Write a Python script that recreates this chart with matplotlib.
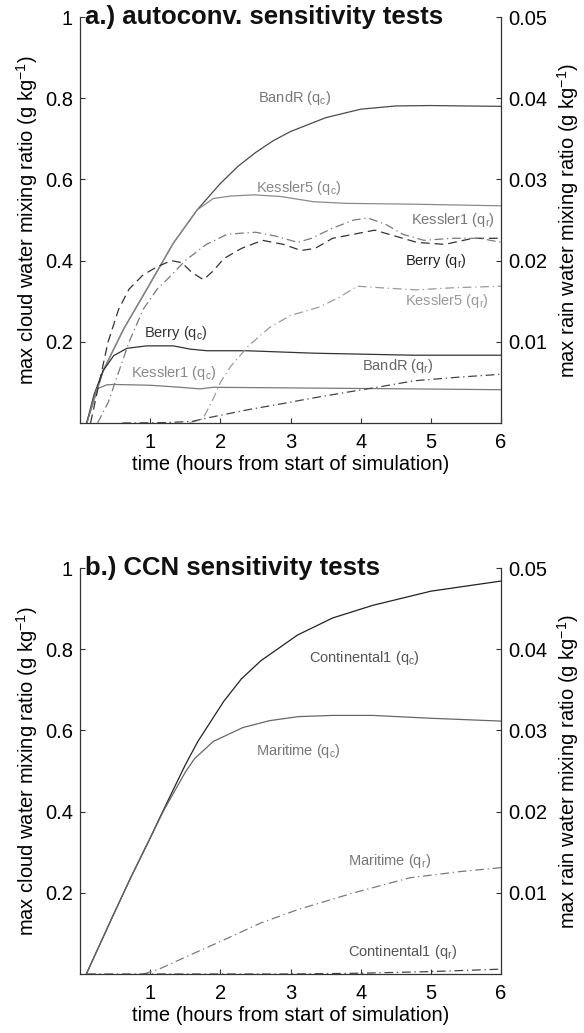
import matplotlib
matplotlib.use("Agg")
import matplotlib.pyplot as plt

plt.rcParams['font.family'] = ['Liberation Sans', 'DejaVu Sans']
plt.rcParams['mathtext.fontset'] = 'custom'
plt.rcParams['mathtext.rm'] = 'Liberation Sans'
plt.rcParams['mathtext.it'] = 'Liberation Sans:italic'

# ---- panel a: autoconversion sensitivity (cloud water, left axis, g/kg) ----
bandr_qc_t = [0.095, 0.33, 0.62, 0.95, 1.33, 1.67, 2.0, 2.25, 2.5, 2.75, 3.0, 3.5, 4.0, 4.5, 5.0, 6.0]
bandr_qc = [0.0, 0.129, 0.231, 0.329, 0.443, 0.525, 0.59, 0.632, 0.666, 0.695, 0.718, 0.752, 0.773, 0.781, 0.782, 0.78]

kess5_qc_t = [0.095, 0.33, 0.62, 0.95, 1.33, 1.67, 1.9, 2.14, 2.48, 2.86, 3.33, 3.81, 4.76, 6.0]
kess5_qc = [0.0, 0.129, 0.231, 0.329, 0.443, 0.525, 0.553, 0.559, 0.562, 0.558, 0.545, 0.541, 0.539, 0.535]

berry_qc_t = [0.095, 0.2, 0.33, 0.48, 0.67, 0.95, 1.33, 1.57, 1.81, 2.38, 3.33, 4.76, 6.0]
berry_qc = [0.0, 0.07, 0.129, 0.166, 0.184, 0.19, 0.19, 0.182, 0.178, 0.178, 0.172, 0.167, 0.167]

kess1_qc_t = [0.1, 0.17, 0.24, 0.38, 0.48, 1.0, 1.43, 1.71, 1.9, 3.33, 4.76, 6.0]
kess1_qc = [0.0, 0.045, 0.084, 0.094, 0.095, 0.093, 0.088, 0.084, 0.088, 0.086, 0.084, 0.082]

# ---- panel a: rain water (right axis, g/kg) ----
berry_qr_t = [0.15, 0.25, 0.4, 0.55, 0.7, 0.9, 1.1, 1.3, 1.45, 1.6, 1.76, 1.9, 2.05, 2.3, 2.6, 2.9,
              3.15, 3.35, 3.6, 3.9, 4.2, 4.5, 4.8, 5.2, 5.6, 6.0]
berry_qr = [0.0, 0.004, 0.01, 0.014, 0.0165, 0.01825, 0.01925, 0.02, 0.01975, 0.0185, 0.01765, 0.01875,
            0.02025, 0.0215, 0.0225, 0.022, 0.02125, 0.0215, 0.02275, 0.02325, 0.02375, 0.023, 0.02225,
            0.022, 0.02275, 0.02275]

kess1_qr_t = [0.25, 0.4, 0.5, 0.7, 0.9, 1.1, 1.25, 1.5, 1.8, 2.1, 2.5, 2.8, 3.1, 3.3, 3.6, 3.9, 4.1,
              4.35, 4.6, 4.9, 5.3, 5.7, 6.0]
kess1_qr = [0.0, 0.0025, 0.005, 0.01, 0.014, 0.0165, 0.01775, 0.02, 0.022, 0.02325, 0.0235, 0.023,
            0.02225, 0.02275, 0.024, 0.025, 0.02525, 0.0245, 0.02325, 0.0225, 0.02275, 0.02275, 0.02225]

kess5_qr_t = [1.55, 1.75, 1.9, 2.0, 2.15, 2.4, 2.7, 3.0, 3.4, 3.7, 3.95, 4.3, 4.8, 5.3, 6.0]
kess5_qr = [0.0, 0.0005, 0.003, 0.005, 0.007, 0.0095, 0.01175, 0.01325, 0.01425, 0.0155, 0.01685,
            0.01665, 0.0164, 0.01665, 0.01685]

bandr_qr_t = [0.6, 1.2, 1.6, 1.8, 2.0, 2.4, 2.86, 3.3, 3.81, 4.3, 4.76, 5.4, 6.0]
bandr_qr = [0.0, 0.00005, 0.0002, 0.0006, 0.00095, 0.00165, 0.00235, 0.00305, 0.0038, 0.0045,
            0.0052, 0.00565, 0.006]

# ---- panel b: CCN sensitivity ----
cont_qc_t = [0.09, 0.46, 0.73, 1.0, 1.15, 1.5, 1.68, 2.05, 2.3, 2.58, 3.1, 3.6, 4.17, 5.0, 6.0]
cont_qc = [0.0, 0.14, 0.24, 0.335, 0.39, 0.515, 0.573, 0.672, 0.727, 0.772, 0.835, 0.877, 0.908, 0.943, 0.968]

mari_qc_t = [0.09, 0.46, 0.73, 1.0, 1.2, 1.5, 1.63, 1.9, 2.32, 2.7, 3.11, 3.6, 4.17, 5.0, 6.0]
mari_qc = [0.0, 0.14, 0.24, 0.335, 0.405, 0.497, 0.53, 0.573, 0.607, 0.624, 0.634, 0.637, 0.637, 0.63, 0.623]

mari_qr_t = [0.9, 1.1, 1.52, 2.05, 2.58, 3.11, 3.9, 4.7, 5.4, 6.0]
mari_qr = [0.0, 0.0005, 0.00215, 0.0042, 0.0063, 0.00795, 0.01, 0.01185, 0.0126, 0.0131]

cont_qr_t = [0.1, 1.0, 2.0, 3.0, 3.5, 4.0, 4.5, 5.0, 5.5, 6.0]
cont_qr = [0.0, 0.0, 0.0, 0.0, 0.00005, 0.0001, 0.0002, 0.0003, 0.00045, 0.0006]

x_ticks = [1, 2, 3, 4, 5, 6]
left_ticks = [0.2, 0.4, 0.6, 0.8, 1.0]
left_labels = ['0.2', '0.4', '0.6', '0.8', '1']
right_ticks = [0.01, 0.02, 0.03, 0.04, 0.05]
right_labels = ['0.01', '0.02', '0.03', '0.04', '0.05']

DASHDOT = (0, (7, 3, 1, 3))
DASHED = (0, (7, 4))
AX_COL = '#333333'

fig = plt.figure(figsize=(5.84, 10.33), dpi=100)


def setup_axes(rect, title):
    ax = fig.add_axes(rect)
    ax2 = ax.twinx()
    ax.set_xlim(0, 6)
    ax.set_ylim(0, 1)
    ax2.set_ylim(0, 0.05)
    for a in (ax, ax2):
        a.spines['top'].set_visible(False)
        for s in a.spines.values():
            s.set_color(AX_COL)
            s.set_linewidth(0.9)
    ax2.spines['left'].set_visible(False)
    ax2.spines['bottom'].set_visible(False)
    ax.spines['right'].set_visible(False)
    ax.set_xticks(x_ticks)
    ax.set_yticks(left_ticks)
    ax.set_yticklabels(left_labels)
    ax2.set_yticks(right_ticks)
    ax2.set_yticklabels(right_labels)
    ax.tick_params(axis='x', direction='in', length=3.5, pad=7, labelsize=14.5, color=AX_COL)
    ax.tick_params(axis='y', direction='in', length=3.5, pad=5, labelsize=14.5, color=AX_COL)
    ax2.tick_params(axis='y', direction='in', length=3.5, pad=5, labelsize=14.5, color=AX_COL)
    ax.set_xlabel('time (hours from start of simulation)', fontsize=14.5, labelpad=2)
    ax.set_ylabel('max cloud water mixing ratio (g kg$^{-1}$)', fontsize=14.5, labelpad=4)
    ax2.set_ylabel('max rain water mixing ratio (g kg$^{-1}$)', fontsize=14.5, labelpad=6)
    ax.text(0.012, 1.0, title, transform=ax.transAxes, ha='left', va='center',
            fontsize=18.5, fontweight='bold', color='#111111')
    return ax, ax2


# panel a
ax, ax2 = setup_axes([0.137, 0.5905, 0.7209, 0.393], 'a.) autoconv. sensitivity tests')
ax.plot(bandr_qc_t, bandr_qc, color='#4a4a4a', lw=0.9)
ax.plot(kess5_qc_t, kess5_qc, color='#8a8a8a', lw=0.9)
ax.plot(berry_qc_t, berry_qc, color='#333333', lw=0.9)
ax.plot(kess1_qc_t, kess1_qc, color='#7a7a7a', lw=0.9)
ax2.plot(berry_qr_t, berry_qr, color='#333333', lw=0.9, linestyle=DASHED)
ax2.plot(kess1_qr_t, kess1_qr, color='#7a7a7a', lw=0.9, linestyle=DASHDOT)
ax2.plot(kess5_qr_t, kess5_qr, color='#9a9a9a', lw=0.9, linestyle=DASHDOT)
ax2.plot(bandr_qr_t, bandr_qr, color='#444444', lw=0.9, linestyle=DASHDOT)

lab = dict(fontsize=10.5, ha='center', va='center')
ax.text(3.06, 0.80, 'BandR (q$_\\mathrm{c}$)', color='#777777', **lab)
ax.text(3.12, 0.578, 'Kessler5 (q$_\\mathrm{c}$)', color='#888888', **lab)
ax.text(5.32, 0.50, 'Kessler1 (q$_\\mathrm{r}$)', color='#777777', **lab)
ax.text(5.07, 0.398, 'Berry (q$_\\mathrm{r}$)', color='#222222', **lab)
ax.text(5.23, 0.30, 'Kessler5 (q$_\\mathrm{r}$)', color='#999999', **lab)
ax.text(1.37, 0.221, 'Berry (q$_\\mathrm{c}$)', color='#333333', **lab)
ax.text(4.53, 0.141, 'BandR (q$_\\mathrm{r}$)', color='#666666', **lab)
ax.text(1.33, 0.123, 'Kessler1 (q$_\\mathrm{c}$)', color='#888888', **lab)

# panel b
bx, bx2 = setup_axes([0.137, 0.0571, 0.7209, 0.393], 'b.) CCN sensitivity tests')
bx.plot(cont_qc_t, cont_qc, color='#222222', lw=0.9)
bx.plot(mari_qc_t, mari_qc, color='#666666', lw=0.9)
bx2.plot(mari_qr_t, mari_qr, color='#7a7a7a', lw=0.9, linestyle=DASHDOT)
bx2.plot(cont_qr_t, cont_qr, color='#444444', lw=0.9, linestyle=DASHDOT)

bx.text(4.06, 0.778, 'Continental1 (q$_\\mathrm{c}$)', color='#555555', **lab)
bx.text(3.11, 0.55, 'Maritime (q$_\\mathrm{c}$)', color='#777777', **lab)
bx.text(4.41, 0.279, 'Maritime (q$_\\mathrm{r}$)', color='#777777', **lab)
bx.text(4.6, 0.055, 'Continental1 (q$_\\mathrm{r}$)', color='#555555', **lab)

fig.savefig('out.png', dpi=100)
